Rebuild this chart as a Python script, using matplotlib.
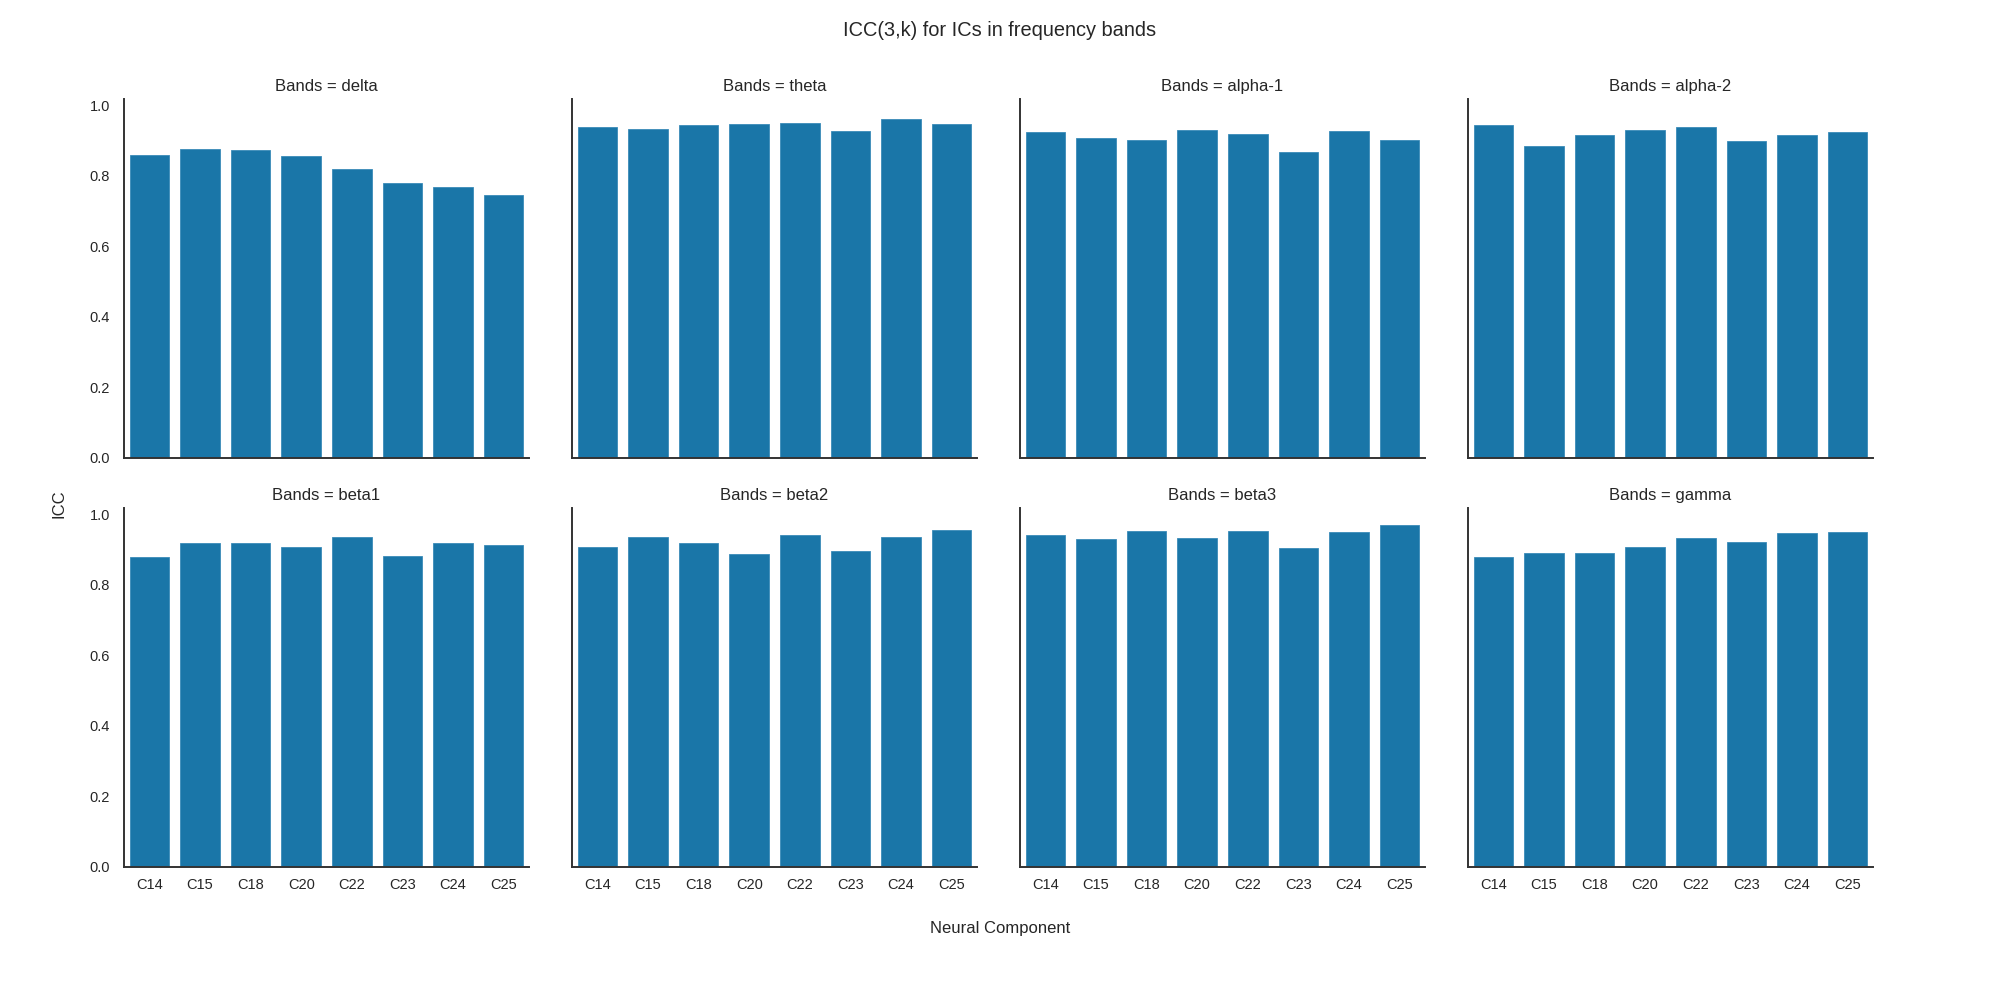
import matplotlib
matplotlib.use("Agg")
import matplotlib.pyplot as plt
import seaborn as sns

components = ["C14", "C15", "C18", "C20", "C22", "C23", "C24", "C25"]
bands = ["delta", "theta", "alpha-1", "alpha-2", "beta1", "beta2", "beta3", "gamma"]

delta = [0.859, 0.876, 0.874, 0.856, 0.820, 0.779, 0.768, 0.745]
theta = [0.938, 0.933, 0.944, 0.947, 0.950, 0.927, 0.961, 0.947]
alpha_1 = [0.924, 0.907, 0.901, 0.930, 0.918, 0.867, 0.927, 0.901]
alpha_2 = [0.944, 0.884, 0.916, 0.930, 0.938, 0.899, 0.916, 0.924]
beta1 = [0.879, 0.917, 0.919, 0.908, 0.936, 0.882, 0.919, 0.911]
beta2 = [0.908, 0.936, 0.917, 0.888, 0.942, 0.894, 0.934, 0.956]
beta3 = [0.942, 0.928, 0.951, 0.931, 0.951, 0.905, 0.948, 0.968]
gamma = [0.879, 0.891, 0.891, 0.908, 0.931, 0.922, 0.945, 0.948]

icc = [delta, theta, alpha_1, alpha_2, beta1, beta2, beta3, gamma]

sns.set_style("white")
plt.rcParams['font.family'] = ['Liberation Sans', 'DejaVu Sans']
text_col = "#262626"

fig, axes = plt.subplots(2, 4, figsize=(20, 10), dpi=100, sharex=True, sharey=True)
fig.subplots_adjust(left=0.062, right=0.9365, top=0.9007, bottom=0.1333,
                    wspace=0.106, hspace=0.141)

bar_col = "#1a76a8"
for ax, band, vals in zip(axes.flat, bands, icc):
    ax.bar(components, vals, width=0.78, color=bar_col, edgecolor="#3a8bb8", linewidth=0.6)
    ax.set_title("Bands = " + band, fontsize=12, color=text_col)
    for s in ["top", "right"]:
        ax.spines[s].set_visible(False)
    for s in ["left", "bottom"]:
        ax.spines[s].set_color("#333333")
        ax.spines[s].set_linewidth(1.4)
    ax.tick_params(labelsize=10.5, colors=text_col, length=0)
    ax.tick_params(axis="x", pad=8)
    ax.tick_params(axis="y", pad=10)
    ax.set_xlim(-0.5, len(components) - 0.5)

axes[0, 0].set_ylim(0, 1.0165)
axes[0, 0].set_yticks([0.0, 0.2, 0.4, 0.6, 0.8, 1.0])

fig.suptitle("ICC(3,k) for ICs in frequency bands", fontsize=14.4, color=text_col, y=0.979)
fig.text(0.5, 0.072, "Neural Component", ha="center", va="center", fontsize=12, color=text_col)
fig.text(0.0295, 0.496, "ICC", ha="center", va="center", rotation=90, fontsize=12, color=text_col)

fig.savefig("out.png")
